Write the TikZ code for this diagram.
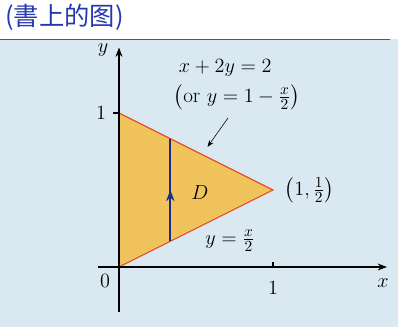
\documentclass[tikz,border=0pt]{standalone}
\usepackage{amsmath,amssymb}
\usepackage{xcolor}
\usepackage{fontspec}
\newfontfamily\cjkhand{Noto Sans CJK SC}
\usepackage{tikz}
\usetikzlibrary{arrows.meta,positioning,calc,backgrounds}

\definecolor{paperblue}{HTML}{DAE8F1}
\definecolor{regionfill}{HTML}{F1C35C}
\definecolor{edgered}{HTML}{E2522B}
\definecolor{inkblue}{HTML}{1F2C86}
\definecolor{penblue}{HTML}{2438B0}

\begin{document}
\begin{tikzpicture}[x=3.85cm,y=3.85cm,>=Stealth,
    lbl/.style={font=\fontsize{15}{17}\selectfont,inner sep=0pt},
    axisline/.style={->,thick,black}]
  % page: white header strip, light blue paper below
  \useasboundingbox (-0.7727,-0.3896) rectangle (1.8117,1.7338);
  \fill[paperblue] (-0.7727,-0.3896) rectangle (1.8117,1.4805);
  \draw[gray!70!black,thin] (-0.7727,1.4805) -- (1.76,1.4805);
  \node[penblue,font=\cjkhand\fontsize{18}{20}\selectfont,anchor=west] (title)
    at (-0.77,1.6185) {(書上的图)};

  % region D
  \coordinate (O) at (0,0);
  \coordinate (A) at (0,1);
  \coordinate (P) at (1,0.5);
  \filldraw[fill=regionfill,draw=edgered,thick] (O) -- (A) -- (P) -- cycle;

  % axes
  \coordinate (xs) at (-0.136,0);
  \coordinate (xe) at (1.74,0);
  \coordinate (ys) at (0,-0.292);
  \coordinate (ye) at (0,1.425);
  \draw[axisline] (xs) -- (xe);
  \draw[axisline] (ys) -- (ye);
  \draw[thick] (-0.04,1) -- (0,1);
  \draw[thick] (1,0) -- (1,0.03);

  % vertical strip arrow
  \coordinate (B) at (1/3,1/6);
  \coordinate (T) at (1/3,5/6);
  \draw[inkblue,very thick] (B) -- (T);
  \draw[inkblue,very thick,-{Stealth[length=8pt,width=6pt]}] (B) -- ($(B)!0.5!(T)$);

  % labels
  \node[lbl] (xl) at (1.714,-0.104) {$x$};
  \node[lbl] (yl) at (-0.104,1.409) {$y$};
  \node[lbl] (zero) at (-0.091,-0.091) {$0$};
  \node[lbl] (yone) at (-0.117,1) {$1$};
  \node[lbl] (xone) at (1,-0.136) {$1$};
  \node[lbl] (Dl) at (0.526,0.481) {$D$};
  \node[lbl] (lower) at (0.721,0.17) {$y=\frac{x}{2}$};
  \node[lbl,anchor=west] (Pl) at (1.075,0.5) {$\left(1,\frac{1}{2}\right)$};
  \node[lbl] (upper) at (0.69,1.292) {$x+2y=2$};
  \node[lbl] (upper2) at (0.766,1.1) {$\left(\text{or } y=1-\frac{x}{2}\right)$};
  \coordinate (hit) at (0.575,0.78);
  \draw[->,thin] (0.708,0.968) -- (hit);
\end{tikzpicture}
\end{document}
